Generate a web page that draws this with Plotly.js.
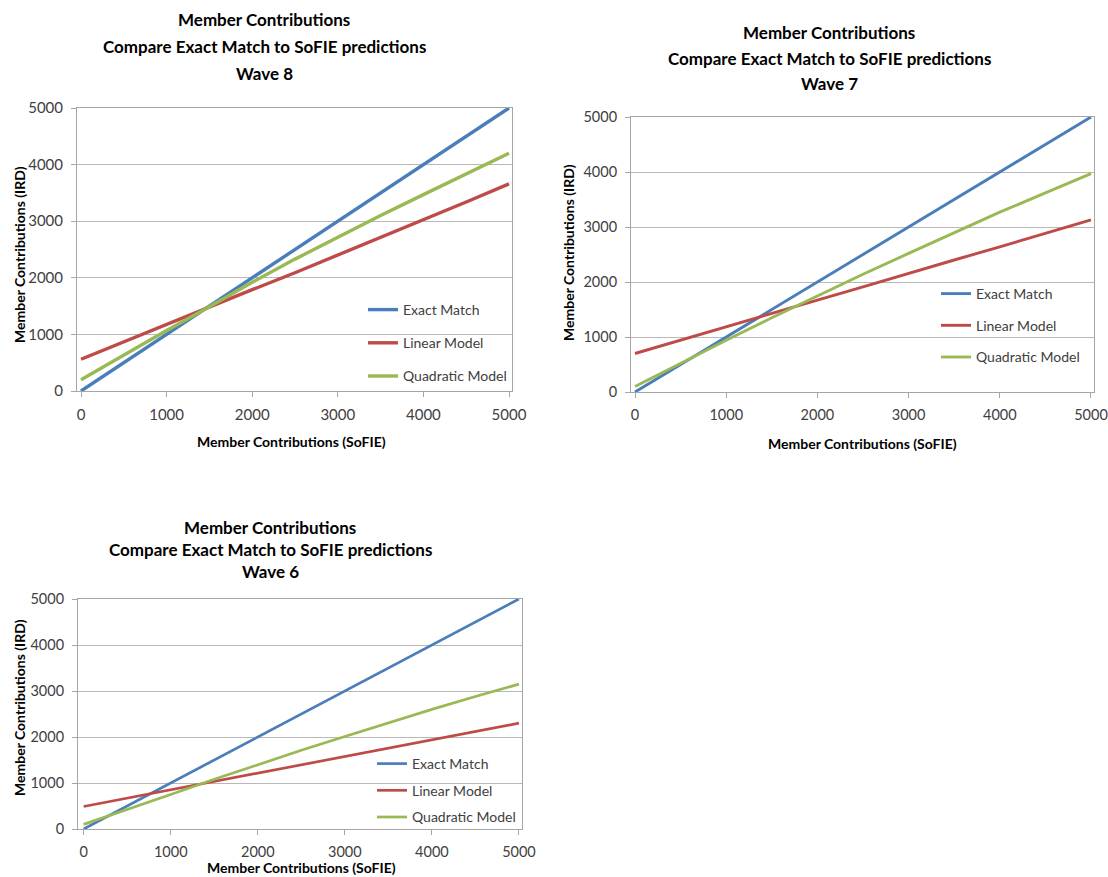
<!DOCTYPE html>
<html>
<head>
<meta charset="utf-8">
<script src="https://cdn.plot.ly/plotly-3.0.1.min.js"></script>
<style>html,body{margin:0;padding:0;background:#fff;}#chart{width:1108px;height:877px;}</style>
</head>
<body>
<div id="chart"></div>
<script>
// ---- data ----
const sofie = [0, 500, 1000, 1500, 2000, 2500, 3000, 3500, 4000, 4500, 5000];

// Wave 8
const w8Exact = [0, 500, 1000, 1500, 2000, 2500, 3000, 3500, 4000, 4500, 5000];
const w8Linear = [560, 870, 1170, 1480, 1790, 2090, 2400, 2710, 3020, 3340, 3660];
const w8Quad = [200, 640, 1070, 1490, 1920, 2330, 2720, 3100, 3470, 3840, 4200];

// Wave 7
const w7Exact = [0, 500, 1000, 1500, 2000, 2500, 3000, 3500, 4000, 4500, 5000];
const w7Linear = [700, 945, 1190, 1430, 1670, 1910, 2160, 2400, 2640, 2890, 3130];
const w7Quad = [100, 525, 940, 1350, 1750, 2140, 2520, 2900, 3270, 3620, 3970];

// Wave 6
const w6Exact = [0, 500, 1000, 1500, 2000, 2500, 3000, 3500, 4000, 4500, 5000];
const w6Linear = [490, 670, 850, 1030, 1210, 1390, 1570, 1750, 1930, 2110, 2300];
const w6Quad = [100, 420, 750, 1080, 1400, 1710, 2010, 2310, 2600, 2880, 3150];

const seriesNames = ["Exact Match", "Linear Model", "Quadratic Model"];
const tickVals = [0, 1000, 2000, 3000, 4000, 5000];
const tickText = ["0", "1000", "2000", "3000", "4000", "5000"];
const mainTitle = "Member Contributions";
const subTitle = "Compare Exact Match to SoFIE predictions";
const waveTitles = ["Wave 8", "Wave 7", "Wave 6"];
const xTitle = "Member Contributions (SoFIE)";
const yTitle = "Member Contributions (IRD)";

// ---- styling ----
const colors = ["#4a7ebb", "#be4b48", "#98b954"];
const FONT = "Lato, 'Open Sans', sans-serif";
const W = 1108, H = 877;

const panels = [
  {data: [w8Exact, w8Linear, w8Quad], xa: "x", ya: "y", legend: "legend", width: 3.4, tf: 15,
   xdom: [77, 512], ydom: [108, 391], xr: [-47, 5035]},
  {data: [w7Exact, w7Linear, w7Quad], xa: "x2", ya: "y2", legend: "legend2", width: 2.9, tf: 14.5,
   xdom: [631, 1094], ydom: [117, 392], xr: [-44, 5033]},
  {data: [w6Exact, w6Linear, w6Quad], xa: "x3", ya: "y3", legend: "legend3", width: 2.7, tf: 14.5,
   xdom: [78, 522], ydom: [599, 829], xr: [-65, 5035]}
];

const traces = [];
panels.forEach((p, pi) => {
  p.data.forEach((ys, si) => {
    traces.push({
      type: "scatter", mode: "lines",
      x: sofie, y: ys, name: seriesNames[si],
      xaxis: p.xa, yaxis: p.ya, legend: p.legend,
      legendgroup: "g" + pi + "_" + si,
      line: {color: colors[si], width: p.width},
      hoverinfo: "skip"
    });
  });
});

function xAxis(p, anchor) {
  return {
    domain: [p.xdom[0] / W, p.xdom[1] / W], anchor: anchor,
    range: p.xr, tickvals: tickVals, ticktext: tickText,
    showgrid: false, zeroline: false,
    showline: true, linecolor: "#a6a6a6", linewidth: 1, mirror: true,
    ticks: "outside", ticklen: 5, tickcolor: "#a6a6a6",
    ticklabelstandoff: 5, ticklabeloverflow: "allow",
    tickfont: {family: FONT, size: p.tf, color: "#404040"}
  };
}
function yAxis(p, anchor) {
  return {
    domain: [1 - p.ydom[1] / H, 1 - p.ydom[0] / H], anchor: anchor,
    range: [0, 5000], tickvals: tickVals, ticktext: tickText,
    showgrid: true, gridcolor: "#b8b8b8", gridwidth: 1, zeroline: false,
    showline: true, linecolor: "#a6a6a6", linewidth: 1, mirror: true,
    ticks: "outside", ticklen: 5, tickcolor: "#a6a6a6",
    ticklabelstandoff: 5,
    tickfont: {family: FONT, size: p.tf, color: "#404040"}
  };
}

const titlePos = [
  {cx: 264, ys: [20, 46, 73], xt: [291, 441], yt: [19, 255]},
  {cx: 829, ys: [33, 58, 83], xt: [862, 443], yt: [569, 253]},
  {cx: 270, ys: [527, 549, 571], xt: [301, 867], yt: [19, 708]}
];

const annotations = [];
titlePos.forEach((t, i) => {
  [mainTitle, subTitle, waveTitles[i]].forEach((txt, k) => {
    annotations.push({
      xref: "paper", yref: "paper", x: t.cx / W, y: 1 - t.ys[k] / H,
      xanchor: "center", yanchor: "middle", showarrow: false,
      text: "<b>" + txt + "</b>",
      font: {family: FONT, size: 17, color: "#000"}
    });
  });
  annotations.push({
    xref: "paper", yref: "paper", x: t.xt[0] / W, y: 1 - t.xt[1] / H,
    xanchor: "center", yanchor: "middle", showarrow: false,
    text: "<b>" + xTitle + "</b>",
    font: {family: FONT, size: 14, color: "#000"}
  });
  annotations.push({
    xref: "paper", yref: "paper", x: t.yt[0] / W, y: 1 - t.yt[1] / H,
    xanchor: "center", yanchor: "middle", showarrow: false, textangle: -90,
    text: "<b>" + yTitle + "</b>",
    font: {family: FONT, size: 14, color: "#000"}
  });
});

function legendCfg(xpx, ypx, gap) {
  return {
    x: xpx / W, y: 1 - ypx / H, xanchor: "left", yanchor: "top",
    bgcolor: "rgba(0,0,0,0)", borderwidth: 0,
    font: {family: FONT, size: 14, color: "#404040"},
    tracegroupgap: gap, itemwidth: 30
  };
}

const layout = {
  width: W, height: H,
  margin: {l: 0, r: 0, t: 0, b: 0},
  paper_bgcolor: "#fff", plot_bgcolor: "#fff",
  showlegend: true,
  xaxis: xAxis(panels[0], "y"), yaxis: yAxis(panels[0], "x"),
  xaxis2: xAxis(panels[1], "y2"), yaxis2: yAxis(panels[1], "x2"),
  xaxis3: xAxis(panels[2], "y3"), yaxis3: yAxis(panels[2], "x3"),
  legend: legendCfg(363, 294, 12),
  legend2: legendCfg(936, 278, 10.5),
  legend3: legendCfg(372, 748, 5.5),
  annotations: annotations
};

Plotly.newPlot("chart", traces, layout, {displayModeBar: false, staticPlot: true});
</script>
</body>
</html>
